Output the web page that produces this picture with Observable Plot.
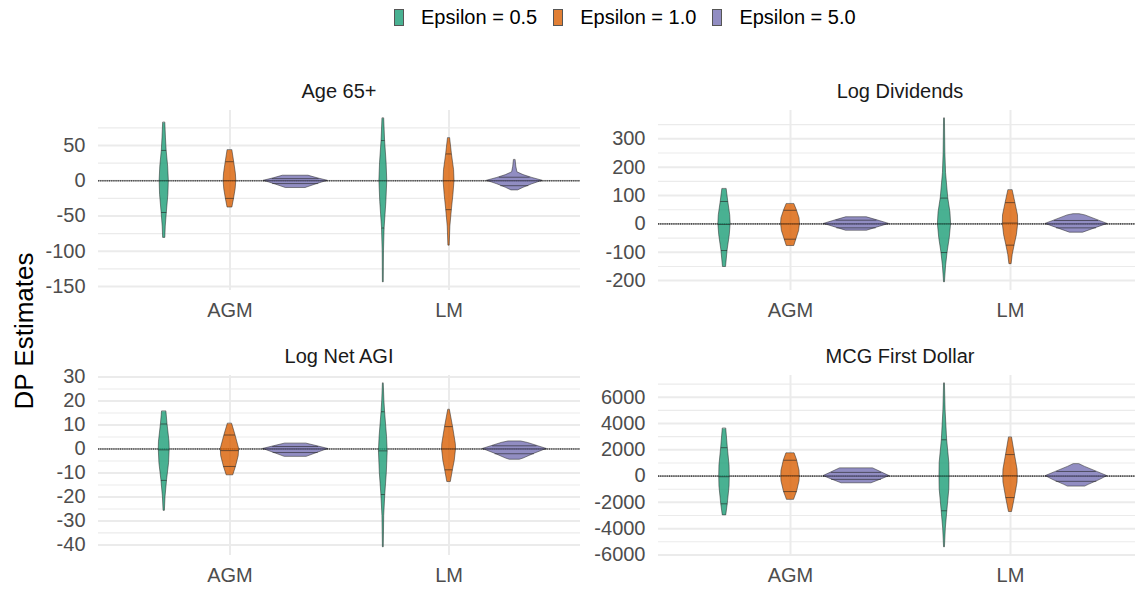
<!DOCTYPE html>
<html>
<head>
<meta charset="utf-8">
<script src="https://cdn.jsdelivr.net/npm/d3@7"></script>
<script src="https://cdn.jsdelivr.net/npm/@observablehq/plot@0.6"></script>
<style>
  html, body { margin: 0; padding: 0; background: #fff; }
  #chart { position: relative; width: 1135px; height: 590px; overflow: hidden; font-family: "Liberation Sans", Arial, sans-serif; }
  .title { position: absolute; font-size: 20px; line-height: 20px; color: #1A1A1A; text-align: center; white-space: nowrap; }
  #legend { position: absolute; left: 394px; top: 7px; display: flex; align-items: center; font-size: 20px; line-height: 20px; color: #000; white-space: nowrap; }
  #legend .key { width: 10px; height: 17px; border: 0.8px solid #555; box-sizing: border-box; }
  #legend .lab { margin-left: 17px; margin-right: 16px; }
  #ylab { position: absolute; left: -75.7px; top: 318px; width: 200px; height: 26px; line-height: 26px; font-size: 26px; text-align: center; color: #000; transform: rotate(-90deg); white-space: nowrap; }
</style>
</head>
<body>
<div id="chart">
  <div id="legend"></div>
  <div id="ylab">DP Estimates</div>
</div>
<script>
// ---------------- data ----------------
const facetTitles = ["Age 65+", "Log Dividends", "Log Net AGI", "MCG First Dollar"];
const methods = ["AGM", "LM"];
const epsilonLabels = ["Epsilon = 0.5", "Epsilon = 1.0", "Epsilon = 5.0"];
const dark2 = ["#1B9E77", "#D95F02", "#7570B3"];

// Violin profiles: [estimate value, half-width (density, in category units)]
// order: AGM eps0.5, AGM eps1.0, AGM eps5.0, LM eps0.5, LM eps1.0, LM eps5.0
const age65Violins = [
  [[82,.005],[60,.008],[43,.011],[20,.018],[0,.021],[-20,.019],[-45,.012],[-65,.007],[-81,.005]],
  [[43,.011],[27,.019],[10,.027],[0,.029],[-12,.026],[-25,.019],[-38,.011]],
  [[7,.06],[3.5,.10],[0,.146],[-5,.095],[-10.3,.045]],
  [[88,.004],[57,.008],[25,.015],[0,.018],[-30,.014],[-67,.006],[-100,.003],[-144,.002]],
  [[60,.005],[38,.013],[15,.023],[0,.025],[-20,.02],[-41,.013],[-65,.006],[-92,.003]],
  [[29,.004],[20,.007],[12,.012],[8,.04],[4,.08],[0,.127],[-5,.08],[-10,.04],[-13.7,.015]]
];
const age65Quantiles = [[43,0,-45],[27,0,-25],[3,0,-4],[57,0,-67],[38,0,-41],[5,0,-7]];
const age65Ticks = [-150,-100,-50,0,50];
const age65Minor = [-125,-75,-25,25,75];

const dividendsViolins = [
  [[122,.010],[79,.017],[30,.026],[0,.028],[-40,.024],[-94,.014],[-152,.007]],
  [[69,.018],[48,.029],[20,.041],[0,.043],[-25,.039],[-54,.027],[-78,.017]],
  [[23,.048],[10,.106],[0,.148],[-10,.106],[-24,.048]],
  [[371,.002],[250,.004],[180,.007],[91,.017],[40,.027],[0,.030],[-50,.024],[-101,.014],[-150,.007],[-206,.002]],
  [[118,.010],[75,.022],[30,.034],[0,.035],[-40,.029],[-75,.019],[-110,.010],[-142,.005]],
  [[34,.015],[30,.04],[0,.141],[-31,.03]]
];
const dividendsQuantiles = [[79,-2,-94],[48,0,-54],[13,0,-14],[91,0,-101],[75,3,-75],[12,0,-14]];
const dividendsTicks = [-200,-100,0,100,200,300];
const dividendsMinor = [-150,-50,50,150,250,350];

const netAgiViolins = [
  [[15.5,.010],[10.4,.015],[3,.024],[0,.025],[-6,.022],[-13,.013],[-20,.006],[-25.8,.003]],
  [[10.4,.010],[5.8,.025],[0,.042],[-3,.040],[-7.3,.028],[-11,.015]],
  [[2.2,.05],[1.1,.10],[0,.149],[-1.6,.10],[-3.3,.05]],
  [[27.2,.002],[20,.005],[15.5,.008],[5,.017],[-1,.020],[-10,.016],[-19,.009],[-28,.004],[-41,.002]],
  [[16.2,.004],[9.3,.018],[2,.031],[0,.032],[-5,.026],[-8.7,.018],[-13.8,.008]],
  [[3.1,.03],[2.5,.06],[0,.146],[-2,.09],[-4,.04],[-4.5,.023]]
];
const netAgiQuantiles = [[10.4,-0.4,-13.1],[5.8,-0.7,-7.3],[1,0,-1.5],[15.5,-0.8,-19],[9.3,0,-8.7],[1.3,0,-2]];
const netAgiTicks = [-40,-30,-20,-10,0,10,20,30];
const netAgiMinor = [-35,-25,-15,-5,5,15,25];

const mcgViolins = [
  [[3590,.008],[2160,.015],[800,.023],[0,.024],[-800,.023],[-2110,.015],[-2990,.008]],
  [[1710,.019],[1205,.03],[400,.041],[0,.042],[-400,.041],[-1180,.03],[-1810,.016]],
  [[580,.076],[290,.113],[0,.15],[-275,.11],[-550,.068]],
  [[7030,.002],[5000,.005],[2760,.012],[1000,.022],[0,.023],[-1000,.022],[-2640,.013],[-4000,.006],[-5420,.002]],
  [[2915,.007],[1635,.02],[500,.032],[0,.033],[-500,.032],[-1635,.02],[-2735,.007]],
  [[900,.014],[700,.039],[300,.097],[0,.14],[-300,.106],[-650,.058],[-800,.039]]
];
const mcgQuantiles = [[2160,-50,-2110],[1205,20,-1180],[280,0,-250],[2760,0,-2640],[1635,20,-1635],[350,0,-400]];
const mcgTicks = [-6000,-4000,-2000,0,2000,4000,6000];
const mcgMinor = [-5000,-3000,-1000,1000,3000,5000,7000];

// ---------------- drawing ----------------
const chart = document.getElementById("chart");
const FONT = "Liberation Sans, Arial, sans-serif";

function withAlpha(c, a) { const col = d3.color(c); col.opacity = a; return col.formatRgb(); }

// legend
const legend = document.getElementById("legend");
epsilonLabels.forEach((lab, i) => {
  const k = document.createElement("span");
  k.className = "key";
  k.style.background = withAlpha(dark2[i], 0.8);
  const t = document.createElement("span");
  t.className = "lab";
  t.textContent = lab;
  legend.appendChild(k);
  legend.appendChild(t);
});

function hwAt(prof, q) {
  for (let i = 0; i < prof.length - 1; i++) {
    const [v0, w0] = prof[i], [v1, w1] = prof[i + 1];
    if (q <= v0 && q >= v1) {
      const t = v0 === v1 ? 0 : (v0 - q) / (v0 - v1);
      return w0 + t * (w1 - w0);
    }
  }
  return 0;
}

function drawPanel(cfg) {
  const { title, violins, quantiles, ticks, minor, left, top, width, marginLeft } = cfg;
  const rows = [], qrows = [];
  violins.forEach((prof, k) => {
    const m = Math.floor(k / 3), e = k % 3;
    const cx = m + 1 + (e - 1) * 0.3;
    prof.forEach(([v, hw]) => rows.push({ key: k, eps: epsilonLabels[e], v, x1: cx - hw, x2: cx + hw }));
    quantiles[k].forEach(q => {
      const hw = hwAt(prof, q);
      qrows.push({ v: q, x1: cx - hw, x2: cx + hw });
    });
  });
  const allV = violins.flat().map(d => d[0]);
  const lo = d3.min(allV), hi = d3.max(allV), pad = (hi - lo) * 0.05;

  const svg = Plot.plot({
    width, height: 260,
    marginLeft, marginRight: 0, marginTop: 40, marginBottom: 40,
    style: { fontFamily: FONT, fontSize: "20px", color: "#4D4D4D", background: "transparent", overflow: "visible" },
    x: { domain: [0.4, 2.6], label: null },
    y: { domain: [lo - pad, hi + pad], label: null },
    color: { domain: epsilonLabels, range: dark2 },
    marks: [
      Plot.ruleY(minor, { stroke: "#EBEBEB", strokeWidth: 1.1 }),
      Plot.ruleY(ticks, { stroke: "#EBEBEB", strokeWidth: 2 }),
      Plot.ruleX([1, 2], { stroke: "#EBEBEB", strokeWidth: 2 }),
      Plot.ruleY([0], { stroke: "#000", strokeWidth: 0.6, strokeOpacity: 0.8 }),
      Plot.ruleY([0], { stroke: "#444", strokeWidth: 1.6, strokeDasharray: "1,1.2", strokeOpacity: 0.9 }),
      Plot.areaX(rows, { y: "v", x1: "x1", x2: "x2", z: "key", fill: "eps", fillOpacity: 0.8, stroke: "#222", strokeWidth: 0.6, strokeOpacity: 0.85, curve: "linear" }),
      Plot.ruleY(qrows, { y: "v", x1: "x1", x2: "x2", stroke: "#222", strokeWidth: 0.7, strokeOpacity: 0.85 }),
      Plot.axisY(ticks, { tickSize: 0, tickPadding: 13, tickFormat: d => String(d), fontSize: 20, label: null }),
      Plot.axisX([1, 2], { tickSize: 0, tickPadding: 12, tickFormat: d => methods[d - 1], fontSize: 20, label: null })
    ]
  });
  svg.style.position = "absolute";
  svg.style.left = left + "px";
  svg.style.top = top + "px";
  chart.appendChild(svg);

  const t = document.createElement("div");
  t.className = "title";
  t.textContent = title;
  t.style.left = (left + marginLeft) + "px";
  t.style.width = (width - marginLeft) + "px";
  t.style.top = (top + 11) + "px";
  chart.appendChild(t);
}

drawPanel({ title: facetTitles[0], violins: age65Violins, quantiles: age65Quantiles, ticks: age65Ticks, minor: age65Minor, left: 0, top: 70, width: 580, marginLeft: 98 });
drawPanel({ title: facetTitles[1], violins: dividendsViolins, quantiles: dividendsQuantiles, ticks: dividendsTicks, minor: dividendsMinor, left: 580, top: 70, width: 562, marginLeft: 78 });
drawPanel({ title: facetTitles[2], violins: netAgiViolins, quantiles: netAgiQuantiles, ticks: netAgiTicks, minor: netAgiMinor, left: 0, top: 335, width: 580, marginLeft: 98 });
drawPanel({ title: facetTitles[3], violins: mcgViolins, quantiles: mcgQuantiles, ticks: mcgTicks, minor: mcgMinor, left: 580, top: 335, width: 562, marginLeft: 78 });
</script>
</body>
</html>
